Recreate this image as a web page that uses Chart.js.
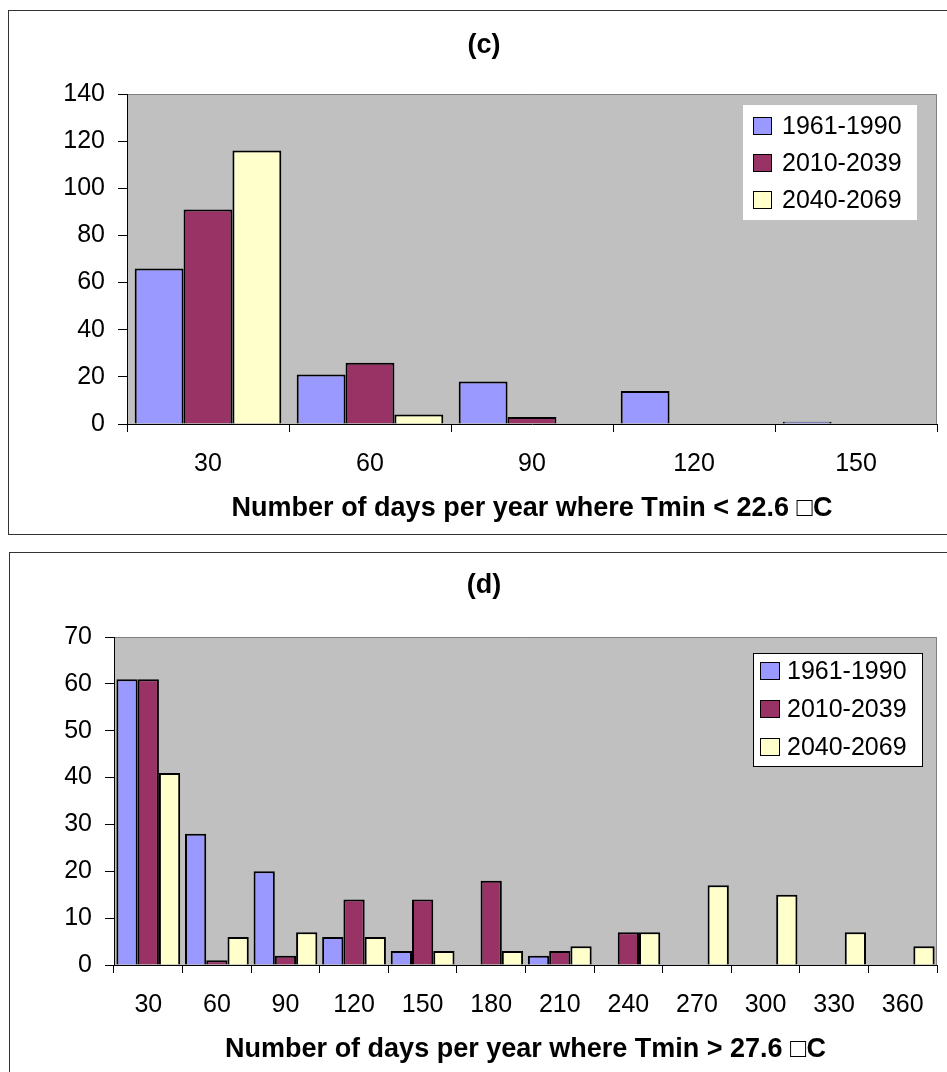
<!DOCTYPE html>
<html>
<head>
<meta charset="utf-8">
<script src="https://cdn.jsdelivr.net/npm/chart.js@4.4.0/dist/chart.umd.min.js"></script>
<style>
    body { margin: 0; background: #fff; width: 947px; height: 1072px; overflow: hidden; position: relative; }
    .frame { position: absolute; border: 1px solid #333; background: #fff; }
    canvas { position: absolute; left: 0; }
</style>
</head>
<body>
<div class="frame" style="left:8px; top:10px; width:960px; height:523px;"></div>
<div class="frame" style="left:9px; top:552px; width:960px; height:540px;"></div>
<canvas id="chartC" width="947" height="540" style="top:0"></canvas>
<canvas id="chartD" width="947" height="532" style="top:540px"></canvas>
<script>
// ===== DATA =====
const seriesNames = ['1961-1990', '2010-2039', '2040-2069'];
const seriesColors = ['#9999ff', '#993366', '#ffffcc'];

// panel (c)
const catsC = ['30', '60', '90', '120', '150'];
const c1961 = [66, 21, 18, 14, 1];
const c2010 = [91, 26, 3, 0, 0];
const c2040 = [116, 4, 0, 0, 0];
const ticksC = [0, 20, 40, 60, 80, 100, 120, 140];

// panel (d)
const catsD = ['30', '60', '90', '120', '150', '180', '210', '240', '270', '300', '330', '360'];
const d1961 = [61, 28, 20, 6, 3, 0, 2, 0, 0, 0, 0, 0];
const d2010 = [61, 1, 2, 14, 14, 18, 3, 7, 0, 0, 0, 0];
const d2040 = [41, 6, 7, 6, 3, 3, 4, 7, 17, 15, 7, 4];
const ticksD = [0, 10, 20, 30, 40, 50, 60, 70];

const FONT = '"Liberation Sans", Arial, sans-serif';

// ===== plot background, title and boxed legend (Excel look) =====
const excelLook = {
    id: 'excelLook',
    beforeDraw(chart, args, opts) {
        const { ctx, chartArea: a } = chart;
        ctx.save();
        ctx.fillStyle = '#c0c0c0';
        ctx.fillRect(a.left, a.top, a.right - a.left, a.bottom - a.top);
        ctx.strokeStyle = '#808080';
        ctx.lineWidth = 1;
        ctx.beginPath();
        ctx.moveTo(a.left, a.top + 0.5);
        ctx.lineTo(a.right - 0.5, a.top + 0.5);
        ctx.lineTo(a.right - 0.5, a.bottom);
        ctx.stroke();
        ctx.restore();
    },
    afterDraw(chart, args, opts) {
        const ctx = chart.ctx;
        ctx.save();
        // title
        ctx.fillStyle = '#000';
        ctx.font = 'bold 27px ' + FONT;
        ctx.textAlign = 'center';
        ctx.textBaseline = 'middle';
        ctx.fillText(opts.title, opts.titleX, opts.titleY);

        // legend
        const L = opts.legend;
        ctx.fillStyle = '#fff';
        ctx.fillRect(L.x, L.y, L.w, L.h);
        if (L.border) {
            ctx.strokeStyle = '#000';
            ctx.lineWidth = 1;
            ctx.strokeRect(L.x + 0.5, L.y + 0.5, L.w - 1, L.h - 1);
        }
        ctx.font = '25px ' + FONT;
        ctx.textAlign = 'left';
        chart.data.datasets.forEach((ds, i) => {
            const cy = L.y + L.firstRow + i * L.rowGap;
            ctx.fillStyle = ds.backgroundColor;
            ctx.fillRect(L.swX, cy - L.swH / 2, L.swW, L.swH);
            ctx.strokeStyle = '#000';
            ctx.lineWidth = 1;
            ctx.strokeRect(L.swX + 0.5, cy - L.swH / 2 + 0.5, L.swW - 1, L.swH - 1);
            ctx.fillStyle = '#000';
            ctx.fillText(ds.label, L.textX, cy + 1);
        });
        ctx.restore();
    }
};

function makeChart(id, cats, values, ticks, cfg) {
    return new Chart(document.getElementById(id), {
        type: 'bar',
        data: {
            labels: cats,
            datasets: values.map((v, i) => ({
                label: seriesNames[i],
                data: v,
                backgroundColor: seriesColors[i],
                borderColor: '#000',
                borderWidth: 2,
                barPercentage: 1,
                categoryPercentage: cfg.catPct
            }))
        },
        options: {
            responsive: false,
            animation: false,
            layout: { padding: { top: cfg.top, right: cfg.right, left: 0, bottom: 0 } },
            plugins: {
                legend: { display: false },
                tooltip: { enabled: false },
                excelLook: {
                    title: cfg.title, titleX: 484, titleY: cfg.titleY,
                    legend: cfg.legend
                }
            },
            scales: {
                x: {
                    afterFit: s => { s.height = cfg.xHeight; },
                    grid: { drawOnChartArea: false, tickLength: 8, color: '#000', offset: true },
                    border: { color: '#000', width: 1 },
                    ticks: { color: '#000', font: { family: FONT, size: 25 }, padding: 17, maxRotation: 0 },
                    title: {
                        display: true,
                        text: cfg.xTitle,
                        color: '#000',
                        font: { family: FONT, size: 27, weight: 'bold' },
                        padding: { top: 0, bottom: cfg.titlePad }
                    }
                },
                y: {
                    afterFit: s => { s.width = cfg.yWidth; },
                    min: ticks[0],
                    max: ticks[ticks.length - 1],
                    grid: { drawOnChartArea: false, tickLength: 9, color: '#000' },
                    border: { color: '#000', width: 1 },
                    ticks: {
                        stepSize: ticks[1] - ticks[0],
                        color: '#000',
                        font: { family: FONT, size: 25 },
                        padding: 13
                    }
                }
            }
        },
        plugins: [excelLook]
    });
}

makeChart('chartC', catsC, [c1961, c2010, c2040], ticksC, {
    catPct: 0.905, top: 94, right: 10, xHeight: 116, yWidth: 127,
    title: '(c)', titleY: 46, titlePad: 15,
    xTitle: 'Number of days per year where Tmin < 22.6 \u25A1C',
    legend: { x: 743, y: 105, w: 174, h: 115, border: false, swX: 753, swW: 19, swH: 18, textX: 782, firstRow: 21, rowGap: 37 }
});

makeChart('chartD', catsD, [d1961, d2010, d2040], ticksD, {
    catPct: 0.93, top: 97, right: 10, xHeight: 107, yWidth: 114,
    title: '(d)', titleY: 46, titlePad: 6,
    xTitle: 'Number of days per year where Tmin > 27.6 \u25A1C',
    legend: { x: 753, y: 113, w: 170, h: 114, border: true, swX: 760, swW: 20, swH: 18, textX: 787, firstRow: 18, rowGap: 38 }
});
</script>
</body>
</html>
